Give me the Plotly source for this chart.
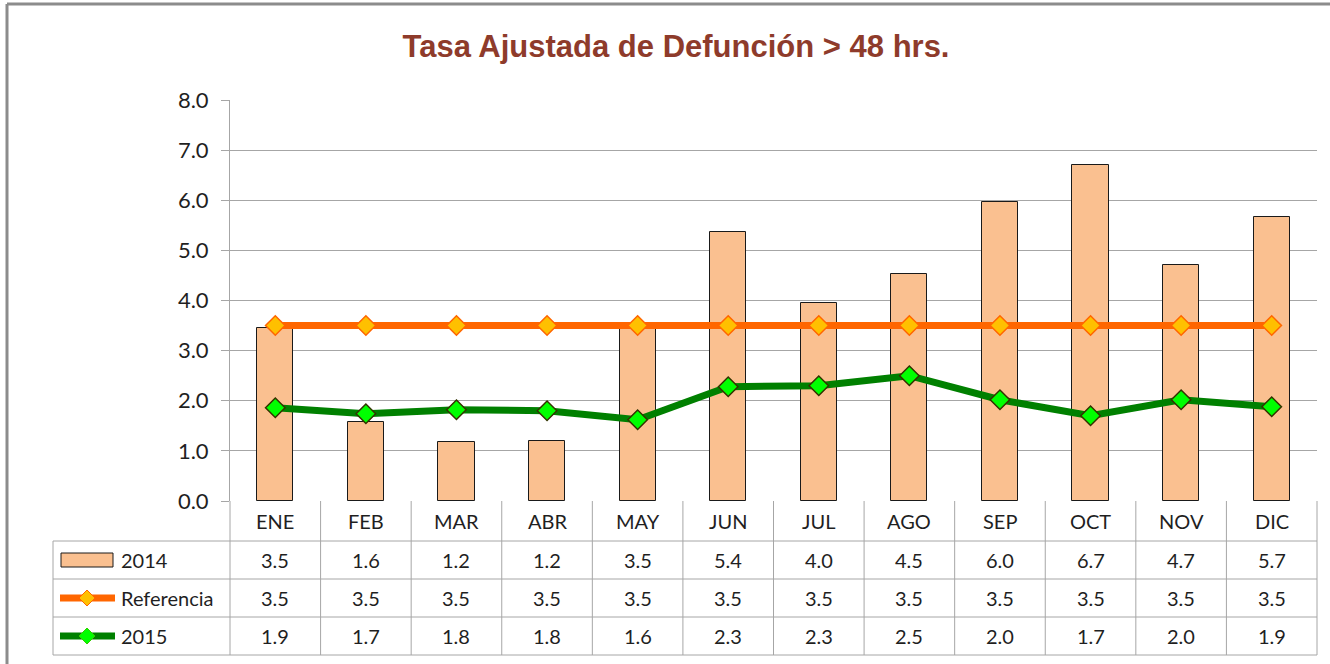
import plotly.graph_objects as go

months = ["ENE", "FEB", "MAR", "ABR", "MAY", "JUN", "JUL", "AGO", "SEP", "OCT", "NOV", "DIC"]
v2014 = [3.46, 1.57, 1.18, 1.19, 3.52, 5.36, 3.96, 4.52, 5.96, 6.70, 4.70, 5.67]
referencia = [3.5] * 12
v2015 = [1.86, 1.74, 1.82, 1.80, 1.62, 2.28, 2.30, 2.50, 2.02, 1.70, 2.02, 1.88]
series_names = ["2014", "Referencia", "2015"]
title_text = "Tasa Ajustada de Defunción > 48 hrs."

W, H = 1330, 664
L, R, T, B = 230, 13, 100, 163
PW, PH = W - L - R, H - T - B

def dx(px):
    return (px - L) / PW

def dy(py):
    return (H - B - py) / PH

GRID = "#A6A6A6"
TXT = "#1F1F1F"
FONT = "Lato, Carlito, Calibri, sans-serif"

fig = go.Figure()
fig.add_trace(go.Bar(x=months, y=v2014, name=series_names[0], width=0.4,
                     marker=dict(color="#FAC090", line=dict(color="#1a1a1a", width=1))))
fig.add_trace(go.Scatter(x=months, y=referencia, name=series_names[1], mode="lines+markers",
                         line=dict(color="#FF6600", width=7),
                         marker=dict(symbol="diamond", size=15, color="#FFC000",
                                     line=dict(color="#FF6600", width=1.5))))
fig.add_trace(go.Scatter(x=months, y=v2015, name=series_names[2], mode="lines+markers",
                         line=dict(color="#008000", width=7),
                         marker=dict(symbol="diamond", size=15, color="#00FF00",
                                     line=dict(color="#333300", width=1.5))))

shapes = []
ann = []
def hline(x0, x1, y, color=GRID, w=1):
    shapes.append(dict(type="line", xref="paper", yref="paper",
                       x0=dx(x0), x1=dx(x1), y0=dy(y), y1=dy(y), line=dict(color=color, width=w)))
def vline(x, y0, y1, color=GRID, w=1):
    shapes.append(dict(type="line", xref="paper", yref="paper",
                       x0=dx(x), x1=dx(x), y0=dy(y0), y1=dy(y1), line=dict(color=color, width=w)))

# table geometry (pixels)
rows = [501, 541, 579, 617, 655]
col0 = 53
n = len(months)
cw = PW / n
for r in rows[1:]:
    hline(col0, L + PW, r)
vline(col0, rows[1], rows[-1])
vline(L, rows[0], rows[-1])
for i in range(1, n + 1):
    vline(L + i * cw, rows[0], rows[-1])

# header labels
hy = (rows[0] + rows[1]) / 2
for m in months:
    ann.append(dict(x=m, xref="x", y=dy(hy), yref="paper", yanchor="middle", text=m, showarrow=False,
                    font=dict(family=FONT, size=20, color=TXT)))
# values
series_vals = [v2014, referencia, v2015]
for k, vals in enumerate(series_vals):
    cy = (rows[k + 1] + rows[k + 2]) / 2
    for m, v in zip(months, vals):
        ann.append(dict(x=m, xref="x", y=dy(cy), yref="paper", yanchor="middle", text=f"{v:.1f}",
                        showarrow=False, font=dict(family=FONT, size=20, color=TXT)))
    ann.append(dict(x=dx(119), xref="paper", y=dy(cy), yref="paper", yanchor="middle",
                    text=series_names[k], showarrow=False, xanchor="left",
                    font=dict(family=FONT, size=20, color=TXT)))

# legend keys
cy0 = (rows[1] + rows[2]) / 2
shapes.append(dict(type="rect", xref="paper", yref="paper", x0=dx(61), x1=dx(113),
                   y0=dy(cy0 - 7), y1=dy(cy0 + 7), fillcolor="#FAC090",
                   line=dict(color="#1a1a1a", width=1)))
for k, (lc, mc, bc) in enumerate([("#FF6600", "#FFC000", "#FF6600"), ("#008000", "#00FF00", "#33CC00")], start=1):
    cy = (rows[k + 1] + rows[k + 2]) / 2
    shapes.append(dict(type="line", xref="paper", yref="paper", x0=dx(60), x1=dx(115),
                       y0=dy(cy), y1=dy(cy), line=dict(color=lc, width=7)))
    cx, s = 87, 8
    path = (f"M {dx(cx - s)} {dy(cy)} L {dx(cx)} {dy(cy - s)} L {dx(cx + s)} {dy(cy)} "
            f"L {dx(cx)} {dy(cy + s)} Z")
    shapes.append(dict(type="path", xref="paper", yref="paper", path=path,
                       fillcolor=mc, line=dict(color=bc, width=1)))

# outer chart frame
hline(7, W, 4, color="#8C8C8C", w=3)
vline(7, 4, H, color="#8C8C8C", w=3)

fig.update_layout(
    width=W, height=H,
    margin=dict(l=L, r=R, t=T, b=B),
    paper_bgcolor="white", plot_bgcolor="white",
    showlegend=False,
    bargap=0,
    title=dict(text=f"<b>{title_text}</b>", x=676 / W, xanchor="center", y=1 - 46 / H,
               yanchor="middle", xref="container", yref="container",
               font=dict(family="Liberation Sans Narrow, Arial Narrow, Liberation Sans, Arial, sans-serif",
                         size=31, color="#8E3B2B")),
    xaxis=dict(type="category", range=[-0.5, n - 0.5], showticklabels=False, ticks="",
               showgrid=False, showline=False, zeroline=False, fixedrange=True),
    yaxis=dict(range=[0, 8], dtick=1, tickformat=".1f", showgrid=True, gridcolor=GRID, gridwidth=1,
               showline=True, linecolor=GRID, linewidth=1, ticks="outside", ticklen=8, tickcolor=GRID,
               zeroline=False, tickfont=dict(family=FONT, size=22, color=TXT), ticklabelstandoff=8),
    shapes=shapes, annotations=ann,
)

fig.write_html("out.html", config={"displayModeBar": False},
               post_script="document.body.style.margin='0';document.body.style.overflow='hidden';")
